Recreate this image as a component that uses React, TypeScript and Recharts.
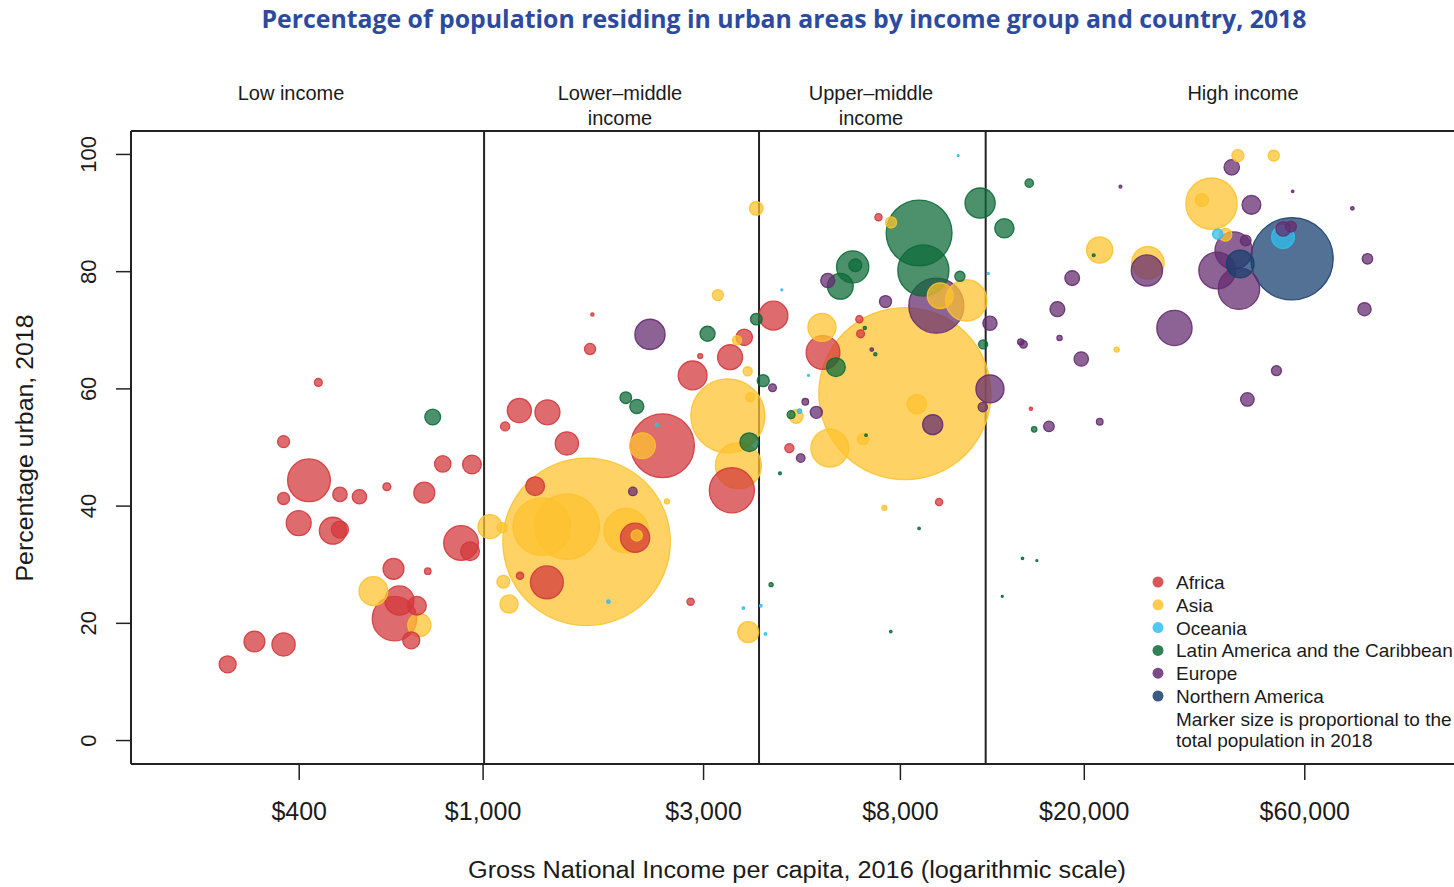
import React from "react";
import { ReferenceLine, Scatter, ScatterChart, XAxis, YAxis, ZAxis } from "recharts";

// each point: [GNI per capita 2016 (US$), % urban 2018, population 2018 (millions)]
type Pt = [number, number, number];

const AFRICA: Pt[] = [
  [440, 61.1, 3], [370, 51.0, 7], [818, 47.2, 13], [946, 47.1, 17], [420, 44.4, 88],
  [370, 41.3, 7], [490, 42.0, 10], [540, 41.6, 10], [619, 43.3, 3], [746, 42.3, 21],
  [399, 37.1, 30], [473, 35.8, 35], [490, 36.0, 14], [896, 33.7, 58], [937, 32.3, 17],
  [640, 29.3, 21], [759, 28.9, 2], [643, 20.8, 95], [659, 23.9, 41], [719, 23.0, 17],
  [699, 17.1, 14], [320, 16.9, 21], [370, 16.4, 26], [280, 13.0, 14], [1724, 72.7, 0.5],
  [1704, 66.8, 6], [3674, 68.8, 13], [2950, 65.6, 1.2], [3424, 65.4, 30], [4250, 72.5, 40],
  [2841, 62.3, 40], [2445, 50.3, 196], [1198, 56.3, 28], [1378, 56.0, 30], [1116, 53.6, 4],
  [1518, 50.7, 26], [1296, 43.4, 17], [2133, 34.6, 41], [1374, 27.0, 52], [1202, 28.1, 2.5],
  [2812, 23.7, 2.5], [3454, 42.7, 98], [5440, 66.2, 55], [7172, 89.3, 2.5], [6520, 71.9, 2.5],
  [6560, 69.4, 3], [4600, 49.9, 4], [9700, 40.7, 2.5], [15330, 56.6, 0.5],
];

const ASIA: Pt[] = [
  [1035, 36.5, 28], [1100, 36.3, 5], [579, 25.5, 40], [728, 19.7, 26], [3222, 76.0, 6],
  [3544, 68.3, 4], [3737, 63.0, 4], [3786, 58.6, 4], [2212, 50.3, 32], [3385, 55.4, 264],
  [3569, 46.9, 102], [2499, 40.8, 1.2], [1340, 36.5, 160], [1518, 36.5, 205], [2040, 35.8, 96],
  [2150, 35.0, 6], [1675, 33.9, 1352], [1106, 27.1, 8], [1138, 23.3, 16], [3747, 18.5, 21],
  [3900, 90.8, 9], [7635, 88.4, 6], [9755, 75.9, 32], [11110, 75.1, 82], [5411, 70.5, 38],
  [8180, 59.2, 1427], [8678, 57.4, 18], [6640, 51.4, 6], [5629, 49.9, 69], [4760, 55.3, 9],
  [7384, 39.7, 1.2], [43000, 99.8, 7], [51400, 99.8, 6], [37700, 91.6, 127], [35950, 92.2, 8],
  [21590, 83.7, 33], [27460, 81.5, 51], [40400, 86.3, 8], [23500, 66.7, 1.2],
];

const OCEANIA: Pt[] = [
  [2377, 53.9, 0.5], [1867, 23.7, 0.6], [3658, 22.6, 0.3], [3990, 23.0, 0.3], [4085, 18.2, 0.3],
  [10670, 99.8, 0.15], [12400, 79.7, 0.15], [4430, 76.9, 0.15], [5060, 62.3, 0.15], [4840, 56.2, 0.9],
  [38880, 86.4, 5], [53830, 85.9, 25],
];

const LATIN_AMERICA: Pt[] = [
  [778, 55.2, 12], [3060, 69.4, 11], [3902, 71.9, 6.5], [4039, 61.4, 7], [2036, 58.5, 6.5],
  [2151, 57.0, 9.5], [3768, 50.9, 17], [4200, 26.6, 0.8], [11900, 91.7, 44], [13430, 87.4, 18],
  [8781, 86.6, 209], [8970, 80.2, 126], [10760, 79.2, 5], [6306, 80.8, 50], [6390, 81.1, 8],
  [5930, 77.5, 32], [5800, 63.7, 17], [6700, 70.4, 0.5], [7060, 65.9, 0.5], [12080, 67.6, 4],
  [4640, 55.6, 3], [4390, 45.6, 0.4], [6740, 52.1, 0.3], [8780, 36.2, 0.3], [7626, 18.6, 0.3],
  [15200, 95.1, 3.4], [20960, 82.8, 0.4], [15580, 53.1, 1.4], [14700, 31.1, 0.3], [15790, 30.7, 0.2],
  [13290, 24.6, 0.2],
];

const EUROPE: Pt[] = [
  [2297, 69.3, 44], [2109, 42.5, 3.5], [5570, 78.5, 9.5], [7428, 74.9, 7], [9567, 74.2, 146],
  [6935, 66.7, 0.6], [4230, 60.2, 2.9], [12500, 71.2, 9.7], [12500, 60.0, 38], [12060, 56.9, 4.2],
  [9397, 53.9, 19.5], [5262, 56.0, 7], [4981, 57.8, 2.1], [4868, 48.2, 3.5], [41700, 97.8, 11.5],
  [23950, 94.5, 0.4], [56500, 93.7, 0.3], [76070, 90.8, 0.6], [46000, 91.4, 17], [56000, 87.7, 5.8],
  [53900, 87.3, 10], [44700, 85.3, 5.5], [42100, 83.6, 67], [38780, 80.2, 65], [43220, 77.1, 83],
  [27320, 80.2, 47], [18830, 78.9, 10.5], [82000, 82.2, 5.3], [80800, 73.6, 8.5], [17490, 73.6, 10.6],
  [31340, 70.4, 60], [17680, 68.7, 1.3], [14570, 68.0, 1.9], [14770, 67.6, 2.8], [19700, 65.1, 10],
  [52100, 63.1, 4.8], [45080, 58.2, 8.8], [16770, 53.6, 5.4], [21600, 54.4, 2.1],
];

const NORTHERN_AMERICA: Pt[] = [
  [43500, 81.3, 37], [56300, 82.2, 327],
];

const REGIONS = [
  { name: "Africa", color: "#d3383c", points: AFRICA },
  { name: "Asia", color: "#fdc22f", points: ASIA },
  { name: "Oceania", color: "#2fbfee", points: OCEANIA },
  { name: "Latin America and the Caribbean", color: "#0e6b38", points: LATIN_AMERICA },
  { name: "Europe", color: "#652c70", points: EUROPE },
  { name: "Northern America", color: "#173f6e", points: NORTHERN_AMERICA },
];

const X_TICKS = [400, 1000, 3000, 8000, 20000, 60000];
const Y_TICKS = [0, 20, 40, 60, 80, 100];
const INCOME_THRESHOLDS = [1005, 3955, 12235];
const INCOME_GROUPS = [
  { lines: ["Low income"], x: 291 },
  { lines: ["Lower\u2013middle", "income"], x: 620 },
  { lines: ["Upper\u2013middle", "income"], x: 871 },
  { lines: ["High income"], x: 1243 },
];

const FONT = "'Liberation Sans', Arial, Helvetica, sans-serif";
const INK = "#1b1b1b";
const MAX_POP = 1430;
const AREA_PER_MILLION = 16.3; // px^2 of marker per million people

// one table, biggest bubbles first so small ones sit on top
const table = REGIONS.flatMap((r) =>
  r.points.map(([gni, urban, pop]) => ({ gni, urban, pop, color: r.color }))
).sort((a, b) => b.pop - a.pop);

const Bubble = (props: any) => {
  const { cx, cy, size, payload } = props;
  const r = Math.sqrt(Math.max(size ?? 0, 0) / Math.PI);
  return (
    <circle
      cx={cx}
      cy={cy}
      r={Math.max(r, 1)}
      fill={payload.color}
      fillOpacity={0.74}
      stroke={payload.color}
      strokeOpacity={0.9}
      strokeWidth={1.3}
    />
  );
};

const XTick = ({ x, y, payload }: any) => (
  <text x={x} y={y} dy="0.71em" textAnchor="middle" fontSize={25} fill={INK} fontFamily={FONT}>
    {"$" + Number(payload.value).toLocaleString("en-US")}
  </text>
);

const YTick = ({ x, y, payload }: any) => (
  <g transform={`translate(${x},${y}) rotate(-90)`}>
    <text x={0} y={0} textAnchor="middle" fontSize={22} fill={INK} fontFamily={FONT}>
      {payload.value}
    </text>
  </g>
);

export default function App() {
  return (
    <div
      style={{
        position: "absolute",
        left: 0,
        top: 0,
        width: 1454,
        height: 887,
        overflow: "hidden",
        background: "#fff",
      }}
    >
      <ScatterChart width={1470} height={887} margin={{ top: 131, right: 7, bottom: 0, left: 0 }}>
        <XAxis
          type="number"
          dataKey="gni"
          scale="log"
          domain={[173, 132000]}
          allowDataOverflow
          ticks={X_TICKS}
          interval={0}
          height={123}
          tickSize={16}
          tickMargin={22}
          tick={<XTick />}
          axisLine={{ stroke: "#222", strokeWidth: 2 }}
          tickLine={{ stroke: "#222", strokeWidth: 1.5 }}
        />
        <YAxis
          type="number"
          dataKey="urban"
          domain={[-4, 104]}
          allowDataOverflow
          ticks={Y_TICKS}
          interval={0}
          width={131}
          tickSize={15}
          tickMargin={20}
          tick={<YTick />}
          axisLine={{ stroke: "#222", strokeWidth: 2 }}
          tickLine={{ stroke: "#222", strokeWidth: 1.5 }}
        />
        <ZAxis type="number" dataKey="pop" domain={[0, MAX_POP]} range={[0, MAX_POP * AREA_PER_MILLION]} />
        <ReferenceLine y={104} stroke="#222" strokeWidth={2} ifOverflow="visible" />
        {INCOME_THRESHOLDS.map((t) => (
          <ReferenceLine key={t} x={t} stroke="#222" strokeWidth={2} ifOverflow="visible" />
        ))}
        <Scatter data={table} shape={Bubble} isAnimationActive={false} />
      </ScatterChart>

      <svg
        width={1454}
        height={887}
        style={{ position: "absolute", left: 0, top: 0, pointerEvents: "none" }}
      >
        <text
          x={784}
          y={28}
          textAnchor="middle"
          fontSize={25}
          fontWeight={700}
          fill="#2c4a9e"
          fontFamily="'Open Sans', 'Liberation Sans', sans-serif"
          textLength={1045}
          lengthAdjust="spacingAndGlyphs"
        >
          Percentage of population residing in urban areas by income group and country, 2018
        </text>

        {INCOME_GROUPS.map((g) => (
          <text key={g.x} x={g.x} y={100} textAnchor="middle" fontSize={20} fill={INK} fontFamily={FONT}>
            {g.lines.map((l, i) => (
              <tspan key={l} x={g.x} dy={i === 0 ? 0 : 25}>
                {l}
              </tspan>
            ))}
          </text>
        ))}

        <text
          x={797}
          y={878}
          textAnchor="middle"
          fontSize={23}
          fill={INK}
          fontFamily={FONT}
          textLength={658}
          lengthAdjust="spacingAndGlyphs"
        >
          Gross National Income per capita, 2016 (logarithmic scale)
        </text>
        <g transform="translate(33,448) rotate(-90)">
          <text
            x={0}
            y={0}
            textAnchor="middle"
            fontSize={23}
            fill={INK}
            fontFamily={FONT}
            textLength={267}
            lengthAdjust="spacingAndGlyphs"
          >
            Percentage urban, 2018
          </text>
        </g>

        <g fontFamily={FONT} fontSize={19} fill={INK}>
          {REGIONS.map((r, i) => (
            <g key={r.name}>
              <circle cx={1158} cy={582 + i * 22.8} r={5.5} fill={r.color} fillOpacity={0.85} />
              <text x={1176} y={582 + i * 22.8 + 7}>
                {r.name}
              </text>
            </g>
          ))}
          <text x={1176} y={726}>Marker size is proportional to the</text>
          <text x={1176} y={747}>total population in 2018</text>
        </g>
      </svg>
    </div>
  );
}
